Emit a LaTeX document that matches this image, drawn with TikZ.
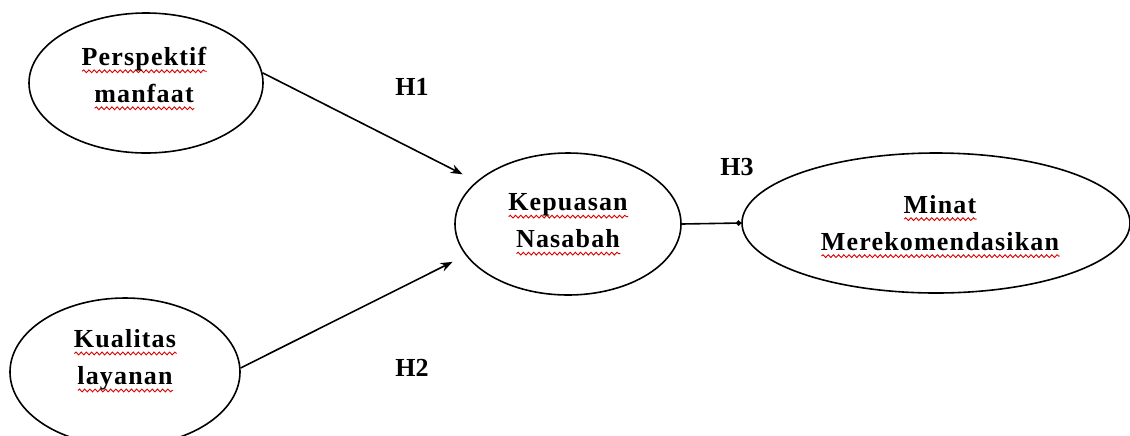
\documentclass[tikz,border=0pt]{standalone}
\usepackage{fontspec}
\setmainfont{Liberation Serif}
\newfontfamily\spacedfont[LetterSpace=4.5]{Liberation Serif}
\usetikzlibrary{shapes.geometric,arrows.meta,decorations.pathmorphing}
\newsavebox\wvbox
\newlength\wvlen
\newcommand\wv[1]{\sbox\wvbox{#1}\setlength\wvlen{\wd\wvbox}\leavevmode\rlap{\raisebox{-3.8pt}[0pt][0pt]{\tikz{\draw[red!85!black, line width=0.45pt, decorate, decoration={snake, amplitude=0.7pt, segment length=2.6pt}] (0pt,0pt) -- (\wvlen,0pt);}}}\usebox\wvbox}
\tikzset{
  ell/.style={ellipse, draw, line width=0.8pt, inner sep=0pt},
  txt/.style={align=center, inner sep=0pt,
    font=\fontsize{13}{18.5}\selectfont\spacedfont\bfseries},
  lbl/.style={font=\fontsize{13}{15}\selectfont\bfseries, inner sep=0pt},
  conn/.style={line width=0.8pt, -{Stealth[length=6pt,width=4.5pt]}},
  dotconn/.style={line width=0.8pt, -{Circle[length=2.6pt]}}
}
\begin{document}
\begin{tikzpicture}[x=0.5pt,y=-0.5pt]
\useasboundingbox (0,0) rectangle (1130,435);
\node[ell, minimum width=117pt, minimum height=70pt] (p1) at (146,83) {};
\node[ell, minimum width=115pt, minimum height=74pt] (p2) at (125,372) {};
\node[ell, minimum width=113pt, minimum height=71pt] (kep) at (568,224) {};
\node[ell, minimum width=194pt, minimum height=70pt] (min) at (936,223) {};
\node[txt] (p1t) at (144,75) {\wv{Perspektif}\\\wv{manfaat}};
\node[txt] (p2t) at (125,360) {\wv{Kualitas}\\\wv{layanan}};
\node[txt] (kept) at (568,221) {\wv{Kepuasan}\\\wv{Nasabah}};
\node[txt] (mint) at (940,223) {\wv{Minat}\\\wv{Merekomendasikan}};
\draw[conn, shorten >=7.8pt] (p1.5) -- (kep.155);
\draw[conn, shorten >=7.3pt] (p2.2) -- (kep.197);
\draw[dotconn] (kep.east) -- (min.west);
\node[lbl] (h1) at (412,87) {H1};
\node[lbl] (h2) at (412,368) {H2};
\node[lbl] (h3) at (737,167) {H3};
\end{tikzpicture}
\end{document}
